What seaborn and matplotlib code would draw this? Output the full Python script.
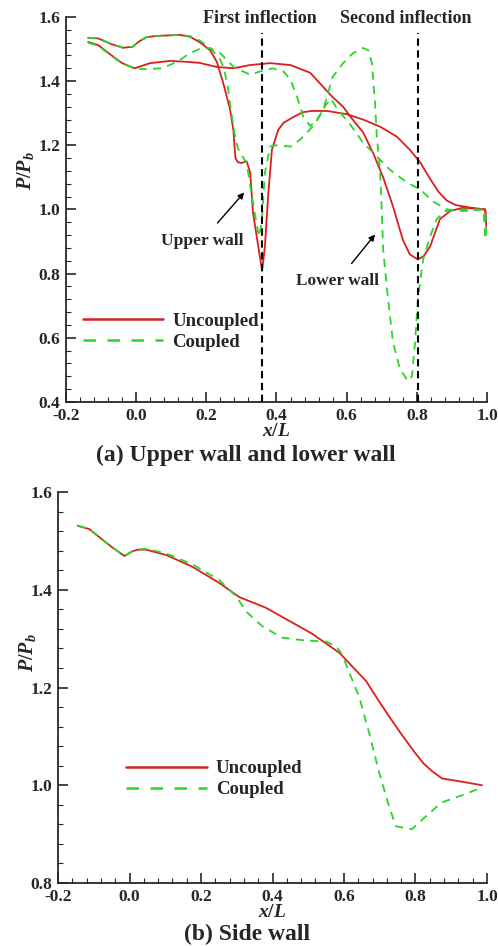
import matplotlib
matplotlib.use("Agg")
import matplotlib.pyplot as plt
from matplotlib.lines import Line2D
from matplotlib.ticker import MultipleLocator
import seaborn as sns

# ---- (a) upper wall and lower wall: x/L and P/Pb ----
upper_unc_x = [-0.137, -0.108, -0.07, -0.037, -0.01, 0.01, 0.03, 0.06, 0.125, 0.154,
               0.18, 0.21, 0.23, 0.248, 0.268, 0.277, 0.283, 0.29, 0.30, 0.315,
               0.325, 0.333, 0.348, 0.359, 0.367, 0.376, 0.387, 0.405, 0.42, 0.448,
               0.475, 0.50, 0.544, 0.60, 0.647, 0.695, 0.743, 0.78, 0.81, 0.838,
               0.862, 0.885, 0.91, 0.95, 0.995, 1.0]
upper_unc_y = [1.535, 1.533, 1.515, 1.504, 1.507, 1.525, 1.537, 1.541, 1.544, 1.538,
               1.522, 1.497, 1.46, 1.395, 1.31, 1.248, 1.16, 1.147, 1.145, 1.15,
               1.115, 0.99, 0.885, 0.81, 0.885, 1.04, 1.186, 1.248, 1.27, 1.288,
               1.303, 1.307, 1.307, 1.297, 1.28, 1.258, 1.227, 1.186, 1.146, 1.095,
               1.055, 1.028, 1.014, 1.006, 1.0, 0.93]

lower_unc_x = [-0.137, -0.108, -0.07, -0.04, -0.005, 0.04, 0.097, 0.145, 0.18, 0.23,
               0.277, 0.325, 0.382, 0.44, 0.496, 0.533, 0.56, 0.59, 0.61, 0.647,
               0.675, 0.704, 0.732, 0.76, 0.78, 0.803, 0.82, 0.838, 0.866, 0.895,
               0.93, 0.995, 1.0]
lower_unc_y = [1.522, 1.512, 1.48, 1.456, 1.44, 1.456, 1.463, 1.46, 1.457, 1.444,
               1.44, 1.45, 1.456, 1.45, 1.426, 1.382, 1.35, 1.32, 1.29, 1.24,
               1.177, 1.1, 1.01, 0.906, 0.86, 0.844, 0.855, 0.885, 0.97, 0.995,
               1.005, 1.0, 0.93]

upper_cpl_x = [-0.137, -0.108, -0.07, -0.037, -0.01, 0.01, 0.03, 0.06, 0.125, 0.154,
               0.18, 0.21, 0.24, 0.25, 0.26, 0.27, 0.28, 0.29, 0.30, 0.315,
               0.33, 0.345, 0.35, 0.358, 0.367, 0.382, 0.40, 0.44, 0.47, 0.50,
               0.52, 0.54, 0.555, 0.575, 0.61, 0.647, 0.686, 0.723, 0.772, 0.81,
               0.846, 0.886, 0.93, 0.995, 1.0]
upper_cpl_y = [1.535, 1.533, 1.515, 1.504, 1.507, 1.525, 1.537, 1.541, 1.544, 1.54,
               1.527, 1.505, 1.466, 1.44, 1.39, 1.31, 1.24, 1.19, 1.17, 1.145,
               1.04, 0.945, 0.915, 0.96, 1.115, 1.196, 1.20, 1.196, 1.22, 1.255,
               1.285, 1.325, 1.345, 1.31, 1.265, 1.208, 1.165, 1.124, 1.084, 1.062,
               1.025, 1.0, 0.995, 1.0, 0.91]

lower_cpl_x = [-0.137, -0.108, -0.07, -0.04, -0.005, 0.03, 0.07, 0.10, 0.125, 0.15,
               0.18, 0.21, 0.24, 0.277, 0.305, 0.325, 0.353, 0.39, 0.42, 0.44,
               0.459, 0.476, 0.496, 0.515, 0.533, 0.56, 0.59, 0.618, 0.647, 0.661,
               0.672, 0.681, 0.686, 0.695, 0.70, 0.704, 0.718, 0.732, 0.752, 0.775,
               0.786, 0.795, 0.803, 0.818, 0.838, 0.857, 0.88, 0.93, 0.99, 0.995]
lower_cpl_y = [1.52, 1.51, 1.478, 1.455, 1.44, 1.437, 1.44, 1.452, 1.466, 1.485,
               1.50, 1.503, 1.487, 1.445, 1.43, 1.42, 1.43, 1.44, 1.43, 1.404,
               1.35, 1.29, 1.26, 1.28, 1.31, 1.413, 1.456, 1.487, 1.503, 1.497,
               1.456, 1.33, 1.227, 1.124, 1.0, 0.875, 0.72, 0.586, 0.502, 0.465,
               0.48, 0.586, 0.72, 0.844, 0.916, 0.97, 0.995, 1.0, 1.0, 0.91]

inflections = [0.358, 0.803]
inflection_labels = ["First inflection", "Second inflection"]

# ---- (b) side wall ----
side_unc_x = [-0.145, -0.112, -0.075, -0.047, -0.014, 0.006, 0.022, 0.047, 0.103, 0.176,
              0.251, 0.307, 0.382, 0.455, 0.511, 0.587, 0.662, 0.695, 0.726, 0.76,
              0.796, 0.822, 0.846, 0.874, 0.94, 0.986]
side_unc_y = [1.531, 1.524, 1.502, 1.486, 1.469, 1.478, 1.482, 1.482, 1.471, 1.447,
              1.414, 1.385, 1.363, 1.333, 1.31, 1.271, 1.213, 1.175, 1.141, 1.105,
              1.069, 1.045, 1.029, 1.014, 1.006, 1.0]

side_cpl_x = [-0.145, -0.112, -0.075, -0.047, -0.014, 0.006, 0.022, 0.047, 0.103, 0.176,
              0.251, 0.299, 0.327, 0.372, 0.427, 0.494, 0.55, 0.58, 0.595, 0.615,
              0.642, 0.67, 0.698, 0.726, 0.745, 0.79, 0.83, 0.874, 0.94, 0.986]
side_cpl_y = [1.531, 1.524, 1.502, 1.486, 1.469, 1.478, 1.482, 1.484, 1.474, 1.452,
              1.42, 1.386, 1.355, 1.325, 1.302, 1.296, 1.294, 1.283, 1.267, 1.23,
              1.182, 1.108, 1.027, 0.957, 0.916, 0.91, 0.937, 0.965, 0.982, 0.996]

case_labels = ["Uncoupled", "Coupled"]
RED = "#dc1e1e"
GREEN = "#2ad42a"
SERIF = "Liberation Serif"

sns.set_style("ticks")
plt.rcParams["font.family"] = [SERIF, "DejaVu Serif"]
plt.rcParams["font.weight"] = "bold"
plt.rcParams["axes.unicode_minus"] = False
plt.rcParams["mathtext.fontset"] = "custom"
plt.rcParams["mathtext.it"] = "Liberation Serif:italic:bold"
plt.rcParams["mathtext.rm"] = "Liberation Serif:bold"

fig = plt.figure(figsize=(4.98, 9.46), dpi=100)
ax_a = fig.add_axes([0.1325, 0.5751, 0.8454, 0.4070])
ax_b = fig.add_axes([0.1165, 0.0666, 0.8614, 0.4133])

LW = 1.3
DASH = (4.5, 3.5)


def draw(ax, x, y, coupled):
    if coupled:
        sns.lineplot(x=x, y=y, ax=ax, color=GREEN, lw=LW, sort=False, estimator=None,
                     zorder=3).lines[-1].set_dashes(DASH)
    else:
        sns.lineplot(x=x, y=y, ax=ax, color=RED, lw=LW, sort=False, estimator=None,
                     zorder=2)


def style_axis(ax, ymin, ymax):
    ax.set_xlim(-0.2, 1.0)
    ax.set_ylim(ymin, ymax)
    ax.xaxis.set_major_locator(MultipleLocator(0.2))
    ax.xaxis.set_minor_locator(MultipleLocator(0.04))
    ax.yaxis.set_major_locator(MultipleLocator(0.2))
    ax.yaxis.set_minor_locator(MultipleLocator(0.04))
    ax.xaxis.set_major_formatter(plt.FormatStrFormatter("%.1f"))
    ax.yaxis.set_major_formatter(plt.FormatStrFormatter("%.1f"))
    ax.tick_params(which="major", direction="in", length=7, width=1.2, labelsize=12.5)
    ax.tick_params(which="minor", direction="in", length=3.5, width=0.8)
    ax.tick_params(axis="x", which="major", pad=4.2)
    ax.tick_params(axis="y", which="major", pad=4)
    for lab in ax.get_xticklabels() + ax.get_yticklabels():
        lab.set_fontweight("bold")
    for s in ("top", "right"):
        ax.spines[s].set_visible(False)
    for s in ("left", "bottom"):
        ax.spines[s].set_linewidth(1.3)
    ax.set_xlabel(r"$x/L$", fontsize=14, labelpad=-0.5)
    ax.set_ylabel(r"$P/P_b$", fontsize=14.5)


def add_legend(ax, anchor):
    handles = [Line2D([], [], color=RED, lw=1.8),
               Line2D([], [], color=GREEN, lw=1.8, dashes=(5, 4.6))]
    leg = ax.legend(handles, case_labels, loc="upper left", bbox_to_anchor=anchor,
                    frameon=False, handlelength=4.3, handletextpad=0.48,
                    labelspacing=0.2, borderpad=0, borderaxespad=0,
                    prop={"family": SERIF, "weight": "bold", "size": 13.5})
    return leg


# panel (a)
for ix in inflections:
    ax_a.plot([ix, ix], [0.4, 1.55], color="black", lw=1.5, dashes=(3.5, 2.2), zorder=4)
draw(ax_a, upper_unc_x, upper_unc_y, False)
draw(ax_a, lower_unc_x, lower_unc_y, False)
draw(ax_a, upper_cpl_x, upper_cpl_y, True)
draw(ax_a, lower_cpl_x, lower_cpl_y, True)
style_axis(ax_a, 0.4, 1.6)
ax_a.yaxis.set_label_coords(-0.072, 0.6)

ax_a.text(0.353, 1.594, inflection_labels[0], ha="center", va="center",
          fontsize=13, fontweight="bold", clip_on=False)
ax_a.text(0.769, 1.594, inflection_labels[1], ha="center", va="center",
          fontsize=13, fontweight="bold", clip_on=False)

ax_a.annotate("Upper wall", xy=(0.308, 1.053), xytext=(0.188, 0.903),
              ha="center", va="center", fontsize=12.5, fontweight="bold",
              arrowprops=dict(arrowstyle="-|>", color="black", lw=1.0,
                              mutation_scale=9, shrinkA=6, shrinkB=0))
ax_a.annotate("Lower wall", xy=(0.681, 0.922), xytext=(0.573, 0.776),
              ha="center", va="center", fontsize=12.5, fontweight="bold",
              arrowprops=dict(arrowstyle="-|>", color="black", lw=1.0,
                              mutation_scale=9, shrinkA=6, shrinkB=0))
add_legend(ax_a, (0.040, 0.232))

# panel (b)
draw(ax_b, side_unc_x, side_unc_y, False)
draw(ax_b, side_cpl_x, side_cpl_y, True)
style_axis(ax_b, 0.8, 1.6)
ax_b.yaxis.set_label_coords(-0.047, 0.59)
add_legend(ax_b, (0.159, 0.314))

fig.text(0.494, 1 - 455 / 946, "(a) Upper wall and lower wall", ha="center", va="center",
         fontsize=17, fontweight="bold")
fig.text(0.496, 1 - 934 / 946, "(b) Side wall", ha="center", va="center",
         fontsize=17, fontweight="bold")

fig.savefig("out.png", dpi=100)
